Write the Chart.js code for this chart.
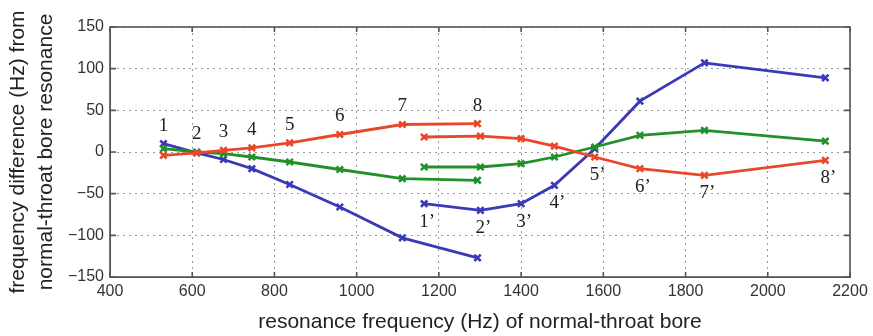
<!DOCTYPE html>
<html>
<head>
<meta charset="utf-8">
<script src="https://cdn.jsdelivr.net/npm/chart.js@4"></script>
<style>
  html, body { margin: 0; padding: 0; background: #fff; }
  #wrap { width: 873px; height: 336px; }
</style>
</head>
<body>
<div id="wrap"><canvas id="boreChart"></canvas></div>
<script>
// resonance frequencies (Hz) of the normal-throat bore
const freqFirst = [530, 611, 676, 745, 837, 959, 1111, 1294];
const freqSecond = [1164, 1301, 1400, 1481, 1579, 1689, 1846, 2140];

// frequency differences (Hz)
const redFirst = [-4, -1, 2, 5, 11, 21, 33, 34];
const greenFirst = [4, 0, -2, -6, -12, -21, -32, -34];
const blueFirst = [10, -1, -9, -20, -39, -66, -103, -127];

const redSecond = [18, 19, 16, 7, -6, -20, -28, -10];
const greenSecond = [-18, -18, -14, -6, 6, 20, 26, 13];
const blueSecond = [-62, -70, -62, -40, 4, 61, 107, 89];

const labelsFirst = ["1", "2", "3", "4", "5", "6", "7", "8"];
const labelsSecond = ["1\u2019", "2\u2019", "3\u2019", "4\u2019", "5\u2019", "6\u2019", "7\u2019", "8\u2019"];

const xTicks = [400, 600, 800, 1000, 1200, 1400, 1600, 1800, 2000, 2200];
const yTicks = [-150, -100, -50, 0, 50, 100, 150];

const RED = '#e8482a';
const GREEN = '#22902a';
const BLUE = '#3a3ab8';

function toPoints(xs, ys){
    return xs.map((x, i) => ({ x: x, y: ys[i] }));
}

function makeSet(xs, ys, color){
    return {
        data: toPoints(xs, ys),
        borderColor: color,
        backgroundColor: color,
        borderWidth: 2.8,
        pointStyle: 'crossRot',
        pointRadius: 4.5,
        pointBorderWidth: 2.6,
        pointBorderColor: color,
        tension: 0
    };
}

// frame, inward tick marks and the point numbers
const framePlugin = {
    id: 'frame',
    afterDatasetsDraw(chart){
        const ctx = chart.ctx;
        const a = chart.chartArea;
        const xs = chart.scales.x;
        const ys = chart.scales.y;
        ctx.save();
        ctx.strokeStyle = '#555';
        ctx.lineWidth = 1.6;
        ctx.strokeRect(a.left, a.top, a.right - a.left, a.bottom - a.top);
        ctx.beginPath();
        xTicks.forEach(v => {
            const px = xs.getPixelForValue(v);
            ctx.moveTo(px, a.top); ctx.lineTo(px, a.top + 5);
            ctx.moveTo(px, a.bottom); ctx.lineTo(px, a.bottom - 5);
        });
        yTicks.forEach(v => {
            const py = ys.getPixelForValue(v);
            ctx.moveTo(a.left, py); ctx.lineTo(a.left + 6, py);
            ctx.moveTo(a.right, py); ctx.lineTo(a.right - 6, py);
        });
        ctx.stroke();

        ctx.fillStyle = '#222';
        ctx.font = '19px "Liberation Serif", "DejaVu Serif", serif';
        ctx.textAlign = 'center';
        ctx.textBaseline = 'middle';
        labelsFirst.forEach((t, i) => {
            const top = Math.max(redFirst[i], greenFirst[i], blueFirst[i]);
            ctx.fillText(t, xs.getPixelForValue(freqFirst[i]), ys.getPixelForValue(top) - 18);
        });
        labelsSecond.forEach((t, i) => {
            const low = Math.min(redSecond[i], greenSecond[i], blueSecond[i]);
            ctx.fillText(t, xs.getPixelForValue(freqSecond[i]) + 3, ys.getPixelForValue(low) + 18);
        });
        ctx.restore();
    }
};

const tickFont = { family: '"Liberation Sans", Arial, sans-serif', size: 16 };
const titleFont = { family: '"Liberation Sans", Arial, sans-serif', size: 21, lineHeight: 1.33 };

new Chart(document.getElementById('boreChart'), {
    type: 'line',
    data: {
        datasets: [
            makeSet(freqFirst, redFirst, RED),
            makeSet(freqFirst, greenFirst, GREEN),
            makeSet(freqFirst, blueFirst, BLUE),
            makeSet(freqSecond, redSecond, RED),
            makeSet(freqSecond, greenSecond, GREEN),
            makeSet(freqSecond, blueSecond, BLUE)
        ]
    },
    options: {
        responsive: true,
        maintainAspectRatio: false,
        animation: false,
        layout: { padding: { left: 0, top: 27, right: 23, bottom: 0 } },
        plugins: { legend: { display: false }, tooltip: { enabled: false } },
        scales: {
            x: {
                type: 'linear',
                min: 400,
                max: 2200,
                afterFit: s => { s.height = 59; },
                afterBuildTicks: s => { s.ticks = xTicks.map(v => ({ value: v })); },
                ticks: { font: tickFont, color: '#333', padding: 5, maxRotation: 0, callback: v => String(v) },
                grid: { color: '#999', lineWidth: 1, drawTicks: false },
                border: { display: true, color: '#555', dash: [2, 4] },
                title: {
                    display: true,
                    text: 'resonance frequency (Hz) of normal-throat bore',
                    font: titleFont,
                    color: '#222',
                    padding: { top: 2, bottom: 0 }
                }
            },
            y: {
                min: -150,
                max: 150,
                afterFit: s => { s.width = 110; },
                afterBuildTicks: s => { s.ticks = yTicks.map(v => ({ value: v })); },
                ticks: {
                    font: tickFont,
                    color: '#333',
                    padding: 6,
                    callback: v => (v < 0 ? '\u2212' + Math.abs(v) : String(v))
                },
                grid: { color: '#999', lineWidth: 1, drawTicks: false },
                border: { display: true, color: '#555', dash: [2, 4] },
                title: {
                    display: true,
                    text: ['frequency difference (Hz) from', 'normal-throat bore resonance'],
                    font: titleFont,
                    color: '#222',
                    padding: { top: 4, bottom: 0 }
                }
            }
        }
    },
    plugins: [framePlugin]
});
</script>
</body>
</html>
